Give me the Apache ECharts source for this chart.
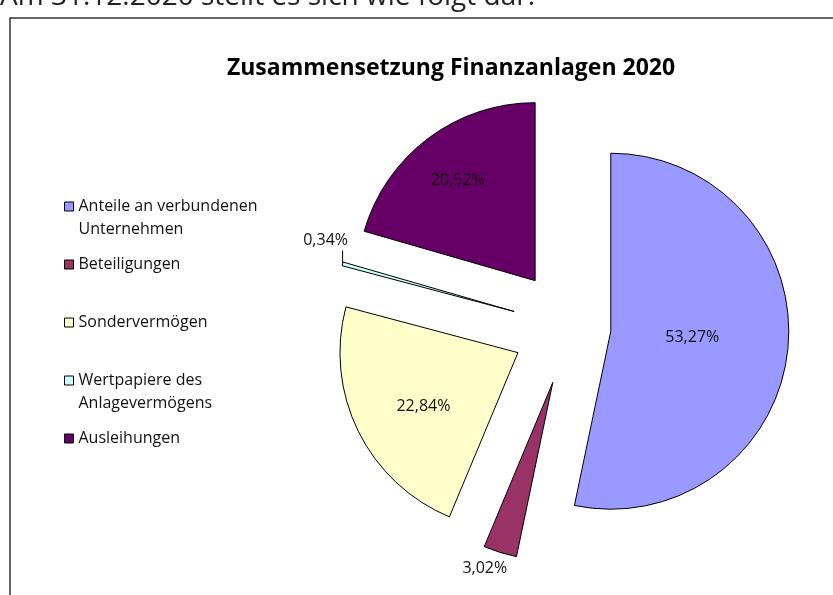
<!DOCTYPE html>
<html>
<head>
<meta charset="utf-8">
<script src="https://cdn.jsdelivr.net/npm/echarts@6/dist/echarts.min.js"></script>
<style>
  html, body { margin: 0; padding: 0; background: #fff; }
  #main { width: 833px; height: 595px; }
</style>
</head>
<body>
<div id="main"></div>
<script>
// Daten
var names = ['Anteile an verbundenen Unternehmen', 'Beteiligungen', 'Sondervermögen', 'Wertpapiere des Anlagevermögens', 'Ausleihungen'];
var legendText = [' \nAnteile an verbundenen\nUnternehmen', ' \nBeteiligungen\n ', ' \nSondervermögen\n ', ' \nWertpapiere des\nAnlagevermögens', ' \nAusleihungen\n '];
var values = [53.27, 3.02, 22.84, 0.34, 20.52];

// Stil
var colors = ['#9999ff', '#993366', '#ffffcc', '#ccffff', '#660066'];
var labelPos = ['inside', 'outside', 'inside', 'outside', 'inside'];
var labelShift = [[-10, -3], [13, 13], [-12, 13], [0, 0], [-22, -27]];
var explode = [41, 58, 58, 58, 58];

var myChart = echarts.init(document.getElementById('main'));

// Excel hat unterschiedliche Explosion je Segment -> eine Serie je Abstand,
// die übrigen Segmente bleiben darin unsichtbar
function buildSeries(offset) {
    var pieData = [];
    for (var i = 0; i < names.length; i++) {
        var own = explode[i] === offset;
        pieData.push({
            name: names[i],
            value: values[i],
            selected: true,
            itemStyle: own ? { color: colors[i], borderColor: '#000', borderWidth: 1 }
                           : { color: 'rgba(0,0,0,0)', borderWidth: 0 },
            label: { show: own, position: labelPos[i] },
            labelLine: { show: own && i === 3, length: i === 3 ? 12 : 3, length2: 0 }
        });
    }
    return {
        name: 'Finanzanlagen ' + offset,
        type: 'pie',
        center: [570, 327],
        radius: 178,
        startAngle: 90,
        clockwise: true,
        selectedMode: 'multiple',
        selectedOffset: offset,
        avoidLabelOverlap: false,
        label: {
            fontFamily: 'Open Sans',
            fontSize: 16,
            color: '#111',
            formatter: function (p) {
                return p.value.toFixed(2).replace('.', ',') + '%';
            }
        },
        labelLine: { lineStyle: { color: '#000', width: 1 } },
        labelLayout: function (p) {
            if (p.dataIndex === 3) {
                // Aussenpunkt des schmalen Segments, Beschriftung darüber
                var ox = p.rect.x + 1, oy = p.rect.y + 2;
                var lr = p.labelRect;
                return {
                    dx: (ox - 17) - (lr.x + lr.width / 2),
                    dy: (oy - 23) - (lr.y + lr.height / 2),
                    labelLinePoints: [[ox, oy], [ox, oy - 13], [ox, oy - 13]]
                };
            }
            return { dx: labelShift[p.dataIndex][0], dy: labelShift[p.dataIndex][1] };
        },
        emphasis: { disabled: true },
        data: pieData
    };
}

var seriesList = [];
var seen = [];
for (var k = 0; k < explode.length; k++) {
    if (seen.indexOf(explode[k]) < 0) {
        seen.push(explode[k]);
        seriesList.push(buildSeries(explode[k]));
    }
}

var legendData = [];
for (var j = 0; j < names.length; j++) {
    legendData.push({ name: names[j], itemStyle: { color: colors[j], borderColor: '#000', borderWidth: 1 } });
}

var option = {
    animation: false,
    title: {
        text: 'Zusammensetzung Finanzanlagen 2020',
        left: 446,
        textAlign: 'center',
        top: 52,
        textStyle: { fontFamily: 'Open Sans', fontWeight: 'bold', fontSize: 23, color: '#000' }
    },
    graphic: [
        {
            type: 'text',
            left: 0,
            top: -17,
            style: { text: 'Am 31.12.2020 stellt es sich wie folgt dar.', font: '28px "Open Sans"', fill: '#222' }
        },
        {
            type: 'rect',
            shape: { x: 10, y: 18, width: 900, height: 700 },
            style: { fill: 'none', stroke: '#333', lineWidth: 1.5 }
        }
    ],
    legend: {
        orient: 'vertical',
        left: 59,
        top: 167,
        itemWidth: 9,
        itemHeight: 9,
        itemGap: -11,
        icon: 'rect',
        selectedMode: false,
        data: legendData,
        formatter: function (name) {
            return legendText[names.indexOf(name)];
        },
        textStyle: {
            fontFamily: 'Open Sans',
            fontSize: 16,
            color: '#111',
            lineHeight: 23
        }
    },
    series: seriesList
};

myChart.setOption(option);
</script>
</body>
</html>
